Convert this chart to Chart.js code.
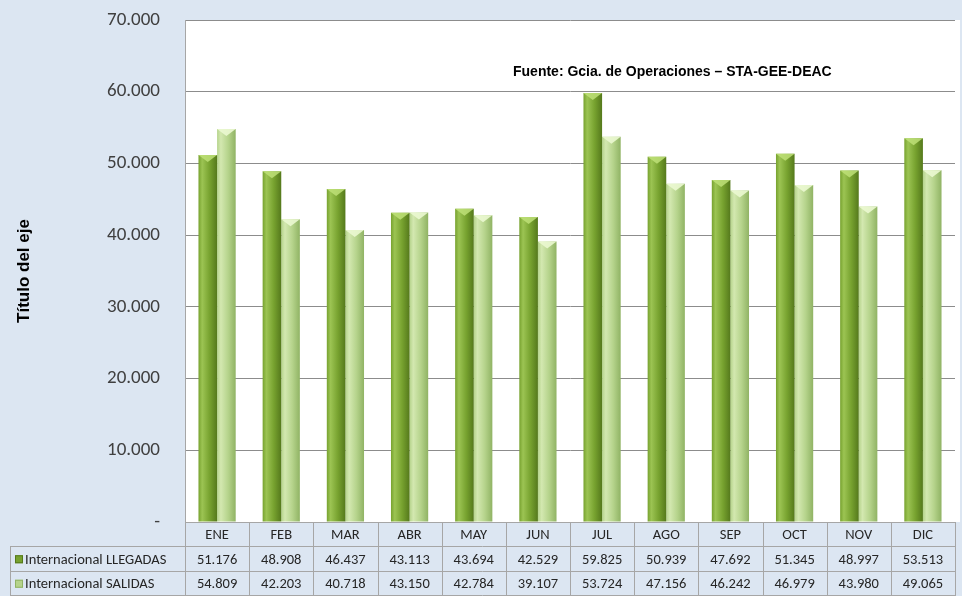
<!DOCTYPE html>
<html>
<head>
<meta charset="utf-8">
<script src="https://cdn.jsdelivr.net/npm/chart.js@4.4.0/dist/chart.umd.min.js"></script>
<style>
  html, body { margin: 0; padding: 0; background: #dce6f2; }
  #wrap { width: 962px; height: 596px; position: relative; }
</style>
</head>
<body>
<div id="wrap"><canvas id="chart"></canvas></div>
<script>
// datos
const meses = ["ENE", "FEB", "MAR", "ABR", "MAY", "JUN", "JUL", "AGO", "SEP", "OCT", "NOV", "DIC"];
const llegadas = [51176, 48908, 46437, 43113, 43694, 42529, 59825, 50939, 47692, 51345, 48997, 53513];
const salidas = [54809, 42203, 40718, 43150, 42784, 39107, 53724, 47156, 46242, 46979, 43980, 49065];
const nombres = ["Internacional LLEGADAS", "Internacional SALIDAS"];
const yTicks = [0, 10000, 20000, 30000, 40000, 50000, 60000, 70000];
const fuente = "Fuente: Gcia. de Operaciones \u2013 STA-GEE-DEAC";

const fmt = v => v === 0 ? "-" : v.toLocaleString("de-DE");
const tonos = [
  ["#9cc453", "#77a22f", "#55791c"],
  ["#d3e8b0", "#b5d38b", "#90b364"]
];

// fondo blanco del area de trazado
const fondoPlot = {
  id: "fondoPlot",
  beforeDraw(chart) {
    const { ctx, chartArea: a } = chart;
    ctx.save();
    ctx.fillStyle = "#ffffff";
    ctx.fillRect(a.left, a.top, a.right - a.left + 5, a.bottom - a.top);
    ctx.restore();
  }
};

// degradado horizontal en cada barra
const degradado = {
  id: "degradado",
  beforeDatasetsDraw(chart) {
    const ctx = chart.ctx;
    chart.data.datasets.forEach((ds, di) => {
      const meta = chart.getDatasetMeta(di);
      meta.data.forEach(el => {
        const x0 = el.x - el.width / 2, x1 = el.x + el.width / 2;
        const g = ctx.createLinearGradient(x0, 0, x1, 0);
        g.addColorStop(0, tonos[di][1]);
        g.addColorStop(0.2, tonos[di][0]);
        g.addColorStop(0.6, tonos[di][1]);
        g.addColorStop(1, tonos[di][2]);
        el.options.backgroundColor = g;
      });
    });
  },
  afterDatasetsDraw(chart) {
    // remate superior en chevron
    const ctx = chart.ctx;
    chart.data.datasets.forEach((ds, di) => {
      chart.getDatasetMeta(di).data.forEach(el => {
        const x0 = el.x - el.width / 2, x1 = el.x + el.width / 2;
        ctx.save();
        ctx.fillStyle = di === 0 ? "rgba(190,225,120,0.85)" : "rgba(235,248,210,0.9)";
        ctx.beginPath();
        ctx.moveTo(x0, el.y);
        ctx.lineTo(x1, el.y);
        ctx.lineTo(el.x, el.y + 7);
        ctx.closePath();
        ctx.fill();
        ctx.restore();
      });
    });
  }
};

// tabla de datos bajo el grafico
const tabla = {
  id: "tabla",
  afterDraw(chart) {
    const { ctx, chartArea: a } = chart;
    const xs = chart.scales.x;
    const cw = (a.right - a.left) / meses.length;
    const rows = [a.bottom, a.bottom + 25, a.bottom + 49.5, a.bottom + 74];
    const left = 10;
    ctx.save();
    ctx.strokeStyle = "#a6a6a6";
    ctx.lineWidth = 1;
    ctx.font = "14.5px Carlito, Calibri, Lato, sans-serif";
    ctx.fillStyle = "#262626";
    ctx.textBaseline = "middle";
    // lineas horizontales
    ctx.beginPath();
    ctx.moveTo(a.left, rows[0] + 0.5); ctx.lineTo(a.right, rows[0] + 0.5);
    for (let r = 1; r < 4; r++) {
      const y = Math.round(rows[r]) - 0.5;
      ctx.moveTo(left, y); ctx.lineTo(a.right, y);
    }
    // verticales
    ctx.moveTo(left + 0.5, rows[1]); ctx.lineTo(left + 0.5, rows[3]);
    for (let i = 0; i <= meses.length; i++) {
      const x = Math.round(a.left + i * cw) + 0.5;
      ctx.moveTo(x, rows[0]); ctx.lineTo(x, rows[3]);
    }
    ctx.stroke();
    ctx.textAlign = "center";
    meses.forEach((m, i) => {
      const cx = xs.getPixelForValue(i);
      ctx.fillText(m, cx, (rows[0] + rows[1]) / 2 + 1);
      ctx.fillText(fmt(llegadas[i]), cx, (rows[1] + rows[2]) / 2 + 1);
      ctx.fillText(fmt(salidas[i]), cx, (rows[2] + rows[3]) / 2 + 1);
    });
    ctx.textAlign = "left";
    nombres.forEach((n, r) => {
      const yc = (rows[r + 1] + rows[r + 2]) / 2;
      ctx.fillStyle = tonos[r][1];
      ctx.fillRect(15, yc - 4, 8, 8);
      ctx.strokeStyle = tonos[r][2];
      ctx.strokeRect(15.5, yc - 3.5, 7, 7);
      ctx.fillStyle = "#262626";
      ctx.fillText(n, 25, yc + 1);
    });
    ctx.restore();
  }
};

// texto de la fuente
const nota = {
  id: "nota",
  afterDraw(chart) {
    const { ctx, chartArea: a } = chart;
    ctx.save();
    ctx.font = "bold 14px 'Liberation Sans', Arial, sans-serif";
    ctx.fillStyle = "#000000";
    ctx.textBaseline = "middle";
    ctx.fillText(fuente, a.left + 328, 72);
    ctx.restore();
  }
};

new Chart(document.getElementById("chart"), {
  type: "bar",
  data: {
    labels: meses,
    datasets: [
      // color como funcion para que cada barra tenga sus propias opciones
      { label: nombres[0], data: llegadas, backgroundColor: () => tonos[0][1], borderWidth: 0 },
      { label: nombres[1], data: salidas, backgroundColor: () => tonos[1][1], borderWidth: 0 }
    ]
  },
  options: {
    responsive: true,
    maintainAspectRatio: false,
    animation: false,
    layout: { padding: { top: 20, right: 7, bottom: 74, left: 0 } },
    datasets: { bar: { categoryPercentage: 0.58, barPercentage: 1.0 } },
    plugins: { legend: { display: false }, tooltip: { enabled: false } },
    scales: {
      x: { display: false },
      y: {
        min: 0,
        max: 70000,
        afterFit(scale) {
          scale.width = 185;
          scale.paddingTop = 0;
          scale.paddingBottom = 0;
        },
        afterBuildTicks(scale) { scale.ticks = yTicks.map(v => ({ value: v })); },
        ticks: {
          padding: 25,
          color: "#404040",
          font: { family: "Carlito, Calibri, Lato, sans-serif", size: 19 },
          callback: v => fmt(v)
        },
        grid: { color: "#8c8c8c", drawTicks: false },
        border: { display: true, color: "#a6a6a6" },
        title: {
          display: true,
          text: "Título del eje",
          color: "#000000",
          font: { family: "'Liberation Sans', Arial, sans-serif", size: 17, weight: "bold" },
          padding: { top: 14, bottom: 0 }
        }
      }
    }
  },
  plugins: [fondoPlot, degradado, tabla, nota]
});
</script>
</body>
</html>
